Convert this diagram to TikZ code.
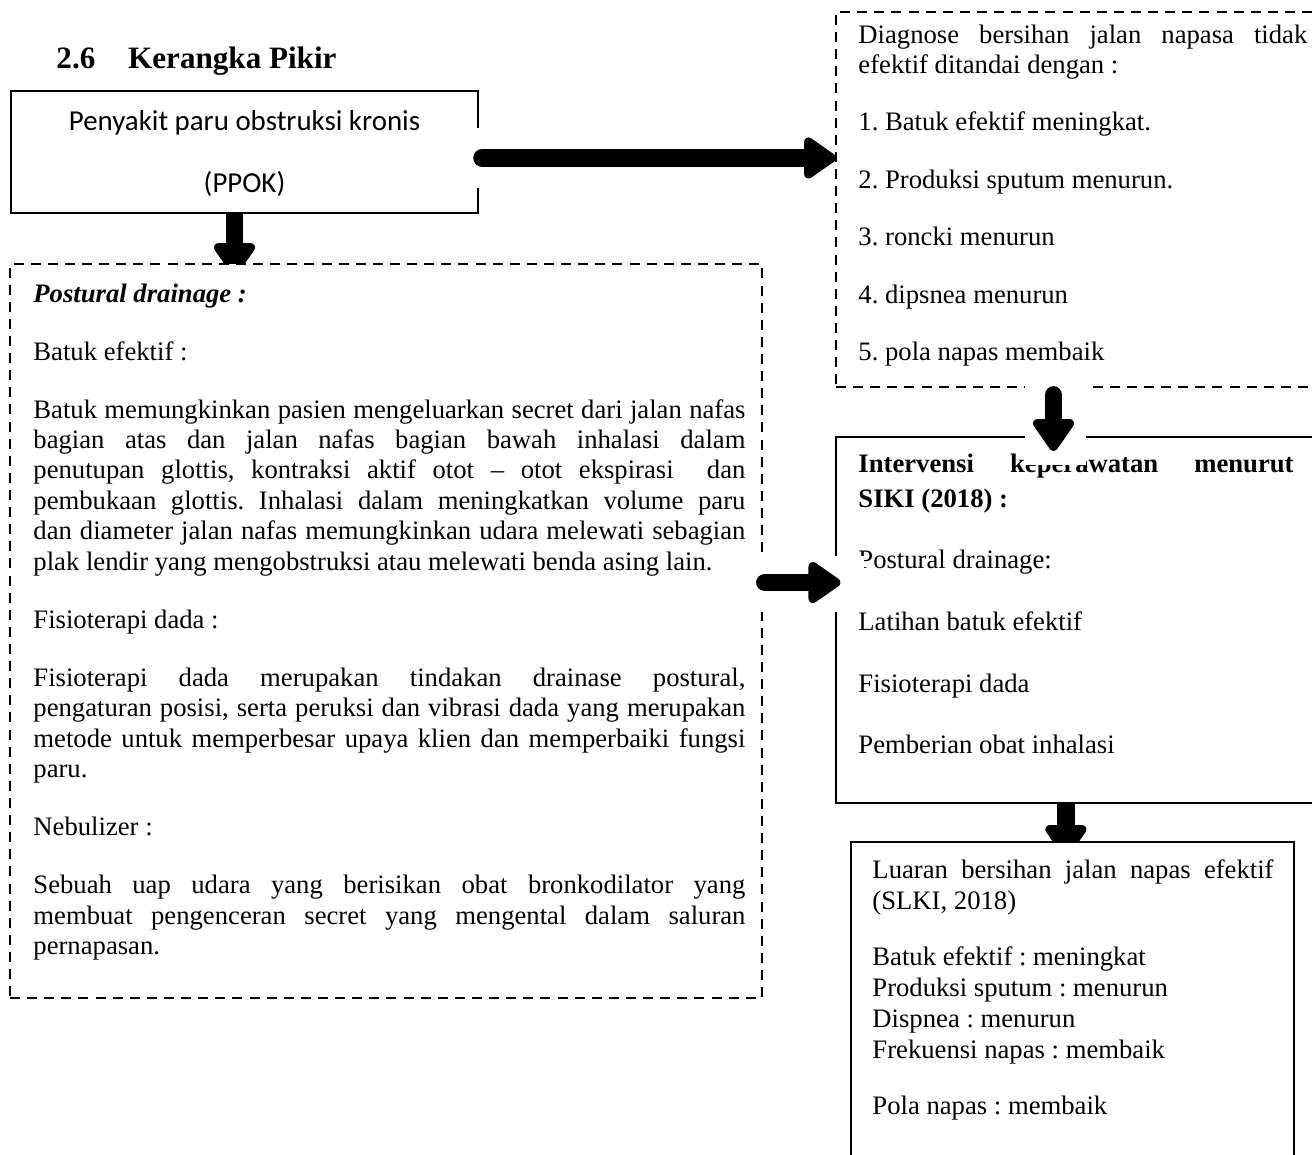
\documentclass[tikz,border=0pt]{standalone}
\usepackage{fontspec}
\setmainfont{Liberation Serif}
\newfontfamily\calibri{Carlito}
\usetikzlibrary{arrows.meta,calc,fit,backgrounds}
\frenchspacing

\begin{document}
\begin{tikzpicture}[x=0.45pt, y=-0.45pt,
    solidbox/.style={draw, line width=1pt, fill=white, inner sep=0pt},
    dashbox/.style={draw, line width=0.9pt, dash pattern=on 4.5pt off 3.2pt, fill=white, inner sep=0pt},
    bodytext/.style={anchor=base west, inner sep=0pt, align=justify},
    sanstext/.style={anchor=base, inner sep=0pt, font=\calibri\fontsize{13}{15}\selectfont},
    bigarrow/.style={line width=8pt, line cap=round, -{Triangle[round, length=16pt, width=21pt, line width=6pt]}},
    flatarrow/.style={bigarrow, line cap=butt},
    gapfill/.style={fill=white}]
    \useasboundingbox (0,0) rectangle (1312,1154);
    \clip (0,0) rectangle (1312,1154);

    \node[anchor=base west, inner sep=0pt, font=\fontsize{14}{17}\selectfont\bfseries] (title) at (56,68) {2.6\hspace{14.8pt}Kerangka Pikir};

    \node[solidbox, fit={(11,91) (478,213)}] (ppok) {};
    \node[dashbox, fit={(10,264) (762,998)}] (post) {};
    \node[dashbox, fit={(836,12) (1340,387)}] (diag) {};
    \node[solidbox, fit={(836,437) (1340,803)}] (inter) {};
    \node[solidbox, fit={(851,842) (1294,1180)}] (luar) {};

    \node[sanstext] (ppokname) at (244.5,130) {Penyakit paru obstruksi kronis};
    \node[sanstext] (ppokabbr) at (244.5,192) {(PPOK)};

    \node[bodytext, text width=202pt, font=\fontsize{12}{13.5}\selectfont, execute at begin node={\setlength{\parskip}{12.4pt}}] (diagtext) at (858,43) {Diagnose bersihan jalan napasa tidak \linebreak efektif ditandai dengan :\par
        1. Batuk efektif meningkat.\par
        2. Produksi sputum menurun.\par
        3. roncki menurun\par
        4. dipsnea menurun\par
        5. pola napas membaik};

    \node[bodytext, text width=320.4pt, font=\fontsize{12}{13.7}\selectfont, execute at begin node={\setlength{\parskip}{12.4pt}}] (posttext) at (33,302) {\textbf{\textit{Postural drainage :}}\par
        Batuk efektif :\par
        Batuk memungkinkan pasien mengeluarkan secret dari jalan nafas \linebreak bagian atas dan jalan nafas bagian bawah inhalasi dalam \linebreak penutupan glottis, kontraksi aktif otot -- otot ekspirasi\ \ dan \linebreak pembukaan glottis. Inhalasi dalam meningkatkan volume paru \linebreak dan diameter jalan nafas memungkinkan udara melewati sebagian \linebreak plak lendir yang mengobstruksi atau melewati benda asing lain.\par
        Fisioterapi dada :\par
        Fisioterapi dada merupakan tindakan drainase postural, \linebreak pengaturan posisi, serta peruksi dan vibrasi dada yang merupakan \linebreak metode untuk memperbesar upaya klien dan memperbaiki fungsi \linebreak paru.\par
        Nebulizer :\par
        Sebuah uap udara yang berisikan obat bronkodilator yang \linebreak membuat pengenceran secret yang mengental dalam saluran \linebreak pernapasan.};

    \node[bodytext, text width=195.8pt, font=\fontsize{12}{15.75}\selectfont, execute at begin node={\setlength{\parskip}{12pt}}] (intertext) at (858,472) {\textbf{Intervensi keperawatan menurut \linebreak SIKI (2018) :}\par
        Postural drainage:\par
        Latihan batuk efektif\par
        Fisioterapi dada\par
        Pemberian obat inhalasi};

    \node[bodytext, text width=180.5pt, font=\fontsize{12}{14}\selectfont, execute at begin node={\setlength{\parskip}{11.2pt}}] (luartext) at (872,878) {Luaran bersihan jalan napas efektif \linebreak (SLKI, 2018)\par
        Batuk efektif : meningkat\newline
        Produksi sputum : menurun\newline
        Dispnea : menurun\newline
        Frekuensi napas : membaik\par
        Pola napas : membaik};

    \fill[gapfill] (474,128) rectangle (483,188);
    \fill[gapfill] (1025,383) rectangle (1086,465);
    \fill[gapfill] (748,556) rectangle (864,612);

    \draw[bigarrow] ($(ppok.east)+(3,6)$) -- ($(ppok.east -| diag.west)+(1,6)$);
    \draw[bigarrow] ($(diag.south west)+(218.5,7)$) coordinate (t3) -- ($(t3 |- inter.north)+(0,15)$);
    \draw[bigarrow] ($(post.east)+(2,-48.5)$) coordinate (t4) -- ($(t4 -| inter.west)+(5.5,0)$);

    \begin{scope}[on background layer]
        \draw[flatarrow] ($(ppok.south)+(-10,0)$) coordinate (t2) -- ($(t2 |- post.north)+(0,12)$);
        \draw[flatarrow] ($(inter.south west)+(231,0)$) coordinate (t5) -- ($(t5 |- luar.north)+(0,16)$);
    \end{scope}
\end{tikzpicture}
\end{document}
